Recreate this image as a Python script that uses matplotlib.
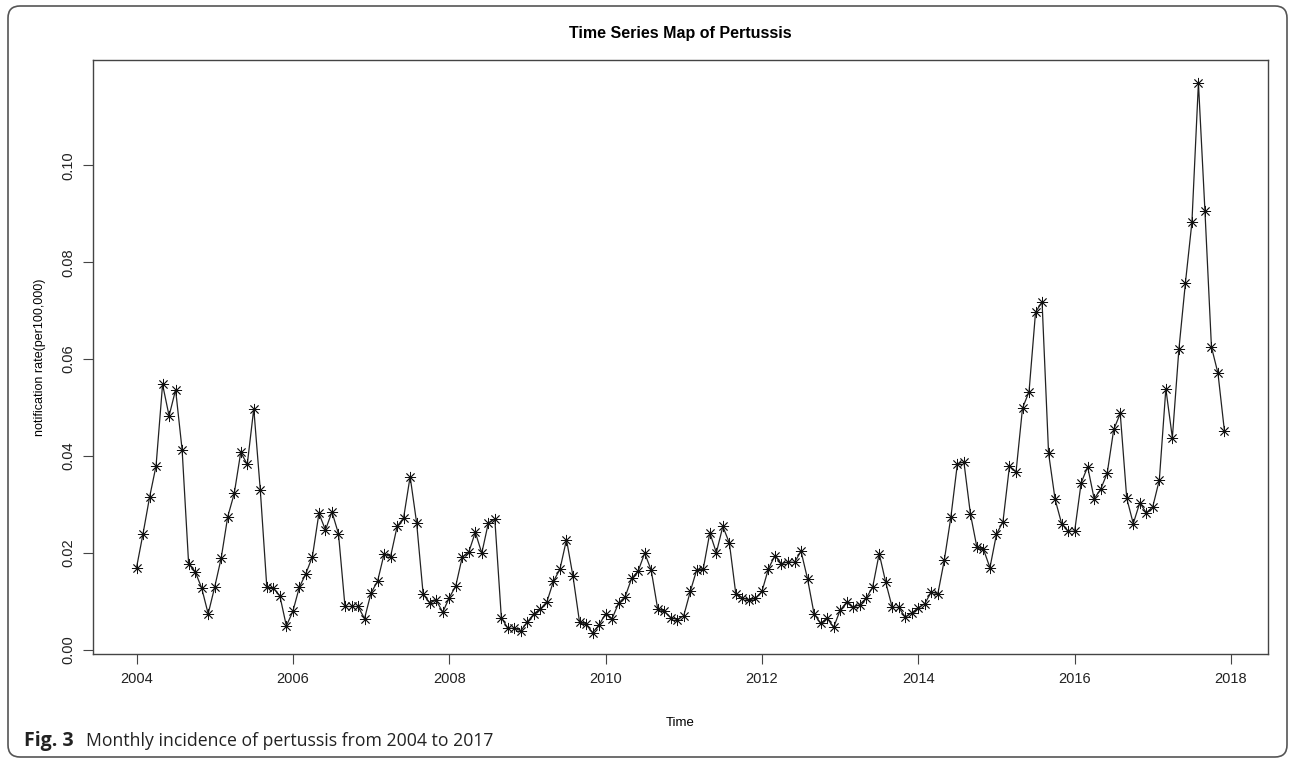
import matplotlib
matplotlib.use("Agg")
import matplotlib.pyplot as plt
from matplotlib.patches import FancyBboxPatch
import numpy as np

# monthly notification rate per 100,000, Jan..Dec
rate_2004 = [0.0170, 0.0240, 0.0315, 0.0380, 0.0548, 0.0483, 0.0537, 0.0413, 0.0178, 0.0162, 0.0128, 0.0075]
rate_2005 = [0.0130, 0.0190, 0.0275, 0.0323, 0.0408, 0.0383, 0.0498, 0.0330, 0.0130, 0.0128, 0.0112, 0.0050]
rate_2006 = [0.0080, 0.0130, 0.0158, 0.0193, 0.0282, 0.0248, 0.0285, 0.0240, 0.0090, 0.0090, 0.0090, 0.0065]
rate_2007 = [0.0118, 0.0142, 0.0198, 0.0193, 0.0255, 0.0273, 0.0358, 0.0262, 0.0115, 0.0098, 0.0103, 0.0078]
rate_2008 = [0.0108, 0.0132, 0.0192, 0.0202, 0.0243, 0.0200, 0.0262, 0.0270, 0.0067, 0.0045, 0.0045, 0.0040]
rate_2009 = [0.0058, 0.0075, 0.0085, 0.0100, 0.0142, 0.0167, 0.0228, 0.0152, 0.0058, 0.0053, 0.0036, 0.0052]
rate_2010 = [0.0075, 0.0065, 0.0097, 0.0110, 0.0148, 0.0163, 0.0200, 0.0165, 0.0085, 0.0080, 0.0067, 0.0063]
rate_2011 = [0.0071, 0.0121, 0.0166, 0.0168, 0.0242, 0.0201, 0.0255, 0.0221, 0.0115, 0.0108, 0.0103, 0.0107]
rate_2012 = [0.0121, 0.0168, 0.0195, 0.0178, 0.0182, 0.0181, 0.0204, 0.0147, 0.0075, 0.0055, 0.0066, 0.0047]
rate_2013 = [0.0082, 0.0099, 0.0088, 0.0094, 0.0107, 0.0130, 0.0199, 0.0140, 0.0088, 0.0088, 0.0068, 0.0077]
rate_2014 = [0.0087, 0.0096, 0.0120, 0.0116, 0.0186, 0.0274, 0.0384, 0.0388, 0.0281, 0.0212, 0.0208, 0.0170]
rate_2015 = [0.0239, 0.0265, 0.0380, 0.0367, 0.0499, 0.0533, 0.0697, 0.0718, 0.0406, 0.0311, 0.0261, 0.0245]
rate_2016 = [0.0245, 0.0345, 0.0378, 0.0312, 0.0332, 0.0365, 0.0455, 0.0488, 0.0313, 0.0261, 0.0304, 0.0283]
rate_2017 = [0.0296, 0.0351, 0.0539, 0.0438, 0.0620, 0.0757, 0.0882, 0.1170, 0.0906, 0.0625, 0.0571, 0.0451]

years = list(range(2004, 2018))
x_ticks = [2004, 2006, 2008, 2010, 2012, 2014, 2016, 2018]
y_ticks = [0.00, 0.02, 0.04, 0.06, 0.08, 0.10]

rates = (rate_2004 + rate_2005 + rate_2006 + rate_2007 + rate_2008 + rate_2009 + rate_2010
         + rate_2011 + rate_2012 + rate_2013 + rate_2014 + rate_2015 + rate_2016 + rate_2017)
t = np.array([y + m / 12 for y in years for m in range(12)])
rates = np.array(rates)

W, H = 1292, 761
fig = plt.figure(figsize=(W / 100, H / 100), dpi=100)
fig.patch.set_facecolor("white")

# rounded frame around the whole figure (pixel coordinates)
frame = FancyBboxPatch((8, 4), W - 13, H - 10, boxstyle="round,pad=0,rounding_size=12",
                       transform=None, fill=False, edgecolor="#555555", linewidth=1.2)
fig.patches.append(frame)

ax = fig.add_axes([93 / W, 1 - 654 / H, (1268 - 93) / W, (654 - 60) / H])

ax.plot(t, rates, color="#222222", linewidth=0.9, marker=(8, 2, 0), markersize=8,
        markeredgewidth=0.6, markeredgecolor="#111111", markerfacecolor="none")

# 4% padding on x, like R's default ts plot
xr = t.max() - t.min()
ax.set_xlim(t.min() - 0.04 * xr, t.max() + 0.04 * xr)
ax.set_ylim(-0.0008, 0.1217)

tick_font = dict(family="Liberation Sans", size=10.5, color="#222222")
ax.set_xticks(x_ticks)
ax.set_xticklabels([str(v) for v in x_ticks], **tick_font)
ax.set_yticks(y_ticks)
ax.set_yticklabels(["%.2f" % v for v in y_ticks], rotation=90, va="center", **tick_font)
ax.tick_params(direction="out", length=7, width=0.8, color="#444444", pad=6)

for s in ax.spines.values():
    s.set_linewidth(1.0)
    s.set_color("#444444")

ax.set_title("Time Series Map of Pertussis", family="Liberation Sans", fontweight="bold",
             fontsize=11.5, pad=16)
ax.set_xlabel("Time", family="Liberation Sans", fontsize=9.5, labelpad=22)
ax.set_ylabel("notification rate(per100,000)", family="Liberation Sans", fontsize=9, labelpad=11)

fig.text(24 / W, 1 - 746 / H, "Fig. 3", family=["Open Sans", "DejaVu Sans"], fontweight="bold",
         fontsize=14, color="#222222", va="baseline")
fig.text(86 / W, 1 - 746 / H, "Monthly incidence of pertussis from 2004 to 2017",
         family=["Open Sans", "DejaVu Sans"], fontsize=12.7, color="#222222", va="baseline")

fig.savefig("out.png", dpi=100)
